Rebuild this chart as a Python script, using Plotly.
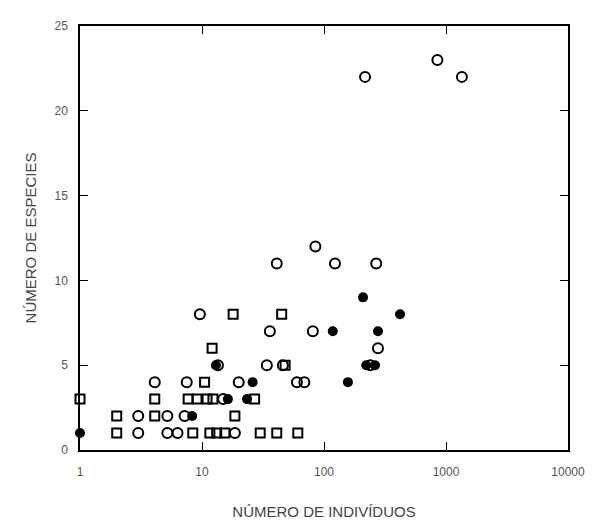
import plotly.graph_objects as go

# Open circles
circ_x = [217, 1350, 850, 85, 41, 123, 268, 9.6, 36, 81, 34, 46, 4.1, 7.5, 20, 60, 69,
          3, 5.2, 7.2, 3, 5.2, 6.3, 18.6, 277, 14.9, 13.5, 240]
circ_y = [22, 22, 23, 12, 11, 11, 11, 8, 7, 7, 5, 5, 4, 4, 4, 4, 4,
          2, 2, 2, 1, 1, 1, 1, 6, 3, 5, 5]
# Open squares
sq_x = [18, 45, 12.1, 10.5, 4.1, 1, 7.7, 9.1, 11, 12.3, 27, 2, 4.1, 18.6,
        2, 8.4, 11.6, 13.2, 15.4, 30, 41, 61, 48]
sq_y = [8, 8, 6, 4, 3, 3, 3, 3, 3, 3, 3, 2, 2, 2,
        1, 1, 1, 1, 1, 1, 1, 1, 5]
# Filled circles
fill_x = [1, 209, 420, 118, 277, 157, 26, 23.4, 16.3, 8.3, 13.0, 222, 262]
fill_y = [1, 9, 8, 7, 7, 4, 4, 3, 3, 2, 5, 5, 5]

x_ticks = [1, 10, 100, 1000, 10000]
x_tick_labels = ["1", "10", "100", "1000", "10000"]
y_ticks = [0, 5, 10, 15, 20, 25]

fig = go.Figure()
fig.add_trace(go.Scatter(x=circ_x, y=circ_y, mode="markers",
                         marker=dict(symbol="circle-open", size=10, color="black",
                                     line=dict(width=2, color="black")),
                         cliponaxis=False))
fig.add_trace(go.Scatter(x=sq_x, y=sq_y, mode="markers",
                         marker=dict(symbol="square-open", size=9, color="black",
                                     line=dict(width=2, color="black")),
                         cliponaxis=False))
fig.add_trace(go.Scatter(x=fill_x, y=fill_y, mode="markers",
                         marker=dict(symbol="circle", size=10, color="black"),
                         cliponaxis=False))

axis_common = dict(showgrid=False, zeroline=False, showline=True, linecolor="black",
                   linewidth=1.5, mirror="ticks", ticks="inside", ticklen=8,
                   tickcolor="black", tickwidth=1.2,
                   tickfont=dict(family="Liberation Sans, Arial", size=12, color="#555"))

fig.update_layout(
    width=602, height=524,
    margin=dict(l=72, r=42, t=11, b=82),
    paper_bgcolor="white", plot_bgcolor="white",
    showlegend=False,
    xaxis=dict(type="log", range=[0, 4], tickvals=x_ticks, ticktext=x_tick_labels,
               ticklabelstandoff=10,
               title=dict(text="NÚMERO DE INDIVÍDUOS", standoff=28,
                          font=dict(family="Liberation Sans, Arial", size=15, color="#444")),
               **axis_common),
    yaxis=dict(range=[0, 25], tickvals=y_ticks, ticklabelstandoff=8,
               title=dict(text="NÚMERO DE ESPECIES", standoff=14,
                          font=dict(family="Liberation Sans, Arial", size=15, color="#444")),
               **axis_common),
)

fig.write_html("out.html")
